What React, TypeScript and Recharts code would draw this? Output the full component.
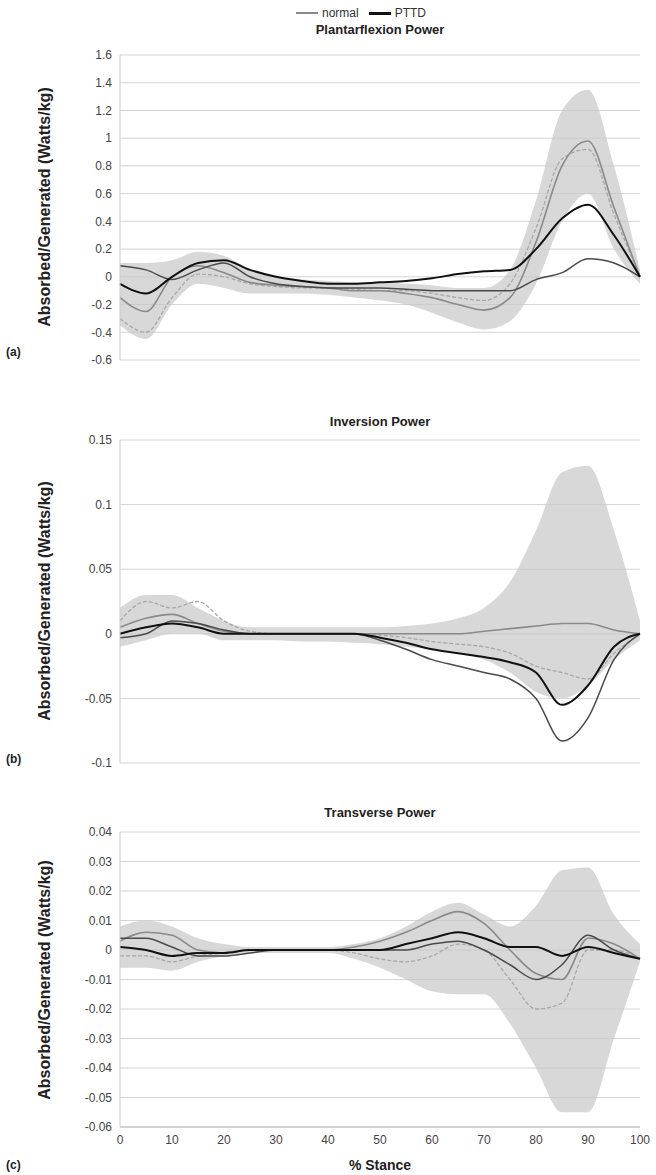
import React from 'react';
import { ComposedChart, Area, Line, XAxis, YAxis, CartesianGrid } from 'recharts';

// % stance sample points
const stance = [0, 5, 10, 15, 20, 25, 30, 35, 40, 45, 50, 55, 60, 65, 70, 75, 80, 85, 90, 95, 100];
const xTicks = [0, 10, 20, 30, 40, 50, 60, 70, 80, 90, 100];

// (a) Plantarflexion power
const aBandHi = [0.1, 0.1, 0.12, 0.18, 0.15, 0.05, 0.0, -0.02, -0.03, -0.04, -0.04, -0.05, -0.06, -0.08, -0.08, 0.05, 0.55, 1.2, 1.35, 0.8, 0.05];
const aBandLo = [-0.35, -0.45, -0.2, -0.05, -0.08, -0.12, -0.12, -0.12, -0.13, -0.15, -0.17, -0.2, -0.26, -0.33, -0.38, -0.32, -0.05, 0.4, 0.6, 0.2, -0.05];
const aNormal = [-0.15, -0.25, 0.0, 0.08, 0.03, -0.04, -0.06, -0.07, -0.08, -0.1, -0.1, -0.12, -0.15, -0.2, -0.24, -0.15, 0.25, 0.8, 0.98, 0.5, 0.0];
const aNormalAlt = [-0.3, -0.4, -0.15, 0.02, 0.0, -0.05, -0.07, -0.08, -0.08, -0.09, -0.1, -0.1, -0.12, -0.15, -0.17, -0.05, 0.35, 0.85, 0.92, 0.45, 0.0];
const aPttd = [-0.05, -0.12, 0.0, 0.1, 0.12, 0.05, 0.0, -0.03, -0.05, -0.05, -0.04, -0.03, -0.01, 0.02, 0.04, 0.05, 0.2, 0.42, 0.52, 0.3, 0.0];
const aPttdAlt = [0.08, 0.05, -0.02, 0.05, 0.1, 0.0, -0.05, -0.07, -0.08, -0.08, -0.08, -0.09, -0.1, -0.1, -0.1, -0.1, -0.02, 0.03, 0.13, 0.1, 0.0];
const aTicks = [1.6, 1.4, 1.2, 1, 0.8, 0.6, 0.4, 0.2, 0, -0.2, -0.4, -0.6];

// (b) Inversion power
const bBandHi = [0.02, 0.03, 0.03, 0.02, 0.01, 0.005, 0.005, 0.005, 0.005, 0.005, 0.005, 0.006, 0.008, 0.012, 0.02, 0.04, 0.08, 0.125, 0.13, 0.08, 0.01];
const bBandLo = [-0.01, -0.005, 0.0, 0.0, -0.005, -0.005, -0.005, -0.006, -0.006, -0.007, -0.008, -0.01, -0.012, -0.015, -0.02, -0.03, -0.045, -0.05, -0.04, -0.02, -0.005];
const bNormal = [0.005, 0.012, 0.015, 0.008, 0.002, 0.0, 0.0, 0.0, 0.0, 0.0, 0.0, 0.0, 0.0, 0.0, 0.002, 0.004, 0.006, 0.008, 0.008, 0.003, 0.0];
const bNormalAlt = [0.01, 0.025, 0.02, 0.025, 0.01, 0.002, 0.0, 0.0, 0.0, 0.0, -0.001, -0.003, -0.006, -0.008, -0.01, -0.015, -0.025, -0.03, -0.035, -0.015, 0.0];
const bPttd = [0.0, 0.005, 0.008, 0.005, 0.0, 0.0, 0.0, 0.0, 0.0, 0.0, -0.003, -0.007, -0.012, -0.015, -0.018, -0.022, -0.03, -0.055, -0.04, -0.01, 0.0];
const bPttdAlt = [-0.003, 0.0, 0.01, 0.008, 0.003, 0.0, 0.0, 0.0, 0.0, 0.0, -0.005, -0.012, -0.02, -0.025, -0.03, -0.035, -0.05, -0.083, -0.065, -0.02, 0.0];
const bTicks = [0.15, 0.1, 0.05, 0, -0.05, -0.1];

// (c) Transverse power
const cBandHi = [0.008, 0.01, 0.008, 0.004, 0.002, 0.001, 0.001, 0.001, 0.001, 0.002, 0.004, 0.008, 0.013, 0.016, 0.012, 0.008, 0.015, 0.027, 0.028, 0.012, 0.002];
const cBandLo = [-0.006, -0.006, -0.007, -0.004, -0.002, -0.001, -0.001, -0.001, -0.001, -0.003, -0.006, -0.01, -0.014, -0.015, -0.015, -0.025, -0.04, -0.055, -0.055, -0.03, -0.004];
const cNormal = [0.003, 0.006, 0.005, 0.0, -0.001, 0.0, 0.0, 0.0, 0.0, 0.001, 0.003, 0.006, 0.01, 0.013, 0.009, 0.0, -0.008, -0.01, 0.004, 0.002, -0.003];
const cNormalAlt = [-0.002, -0.002, -0.004, -0.002, -0.001, 0.0, 0.0, 0.0, 0.0, -0.001, -0.003, -0.004, -0.002, 0.002, 0.0, -0.01, -0.02, -0.018, 0.0, 0.0, -0.003];
const cPttd = [0.001, 0.0, -0.002, -0.001, -0.001, 0.0, 0.0, 0.0, 0.0, 0.0, 0.0, 0.002, 0.004, 0.006, 0.004, 0.001, 0.001, -0.002, 0.001, -0.001, -0.003];
const cPttdAlt = [0.004, 0.004, 0.001, -0.002, -0.002, -0.001, 0.0, 0.0, 0.0, 0.0, 0.0, 0.0, 0.002, 0.003, 0.0, -0.005, -0.01, -0.005, 0.005, 0.0, -0.003];
const cTicks = [0.04, 0.03, 0.02, 0.01, 0, -0.01, -0.02, -0.03, -0.04, -0.05, -0.06];

const build = (hi: number[], lo: number[], n: number[], na: number[], p: number[], pa: number[]) =>
  stance.map((x, i) => ({ x, band: [lo[i], hi[i]], normal: n[i], normalAlt: na[i], pttd: p[i], pttdAlt: pa[i] }));

const font = 'Liberation Sans, Arial, sans-serif';

const Panel = ({ data, ticks, top, height, mTop, mBottom, showX }: any) => (
  <div style={{ position: 'absolute', left: 0, top }}>
    <ComposedChart width={656} height={height} data={data} margin={{ top: mTop, right: 16, bottom: mBottom, left: 0 }}>
      <CartesianGrid vertical={false} stroke="#d4d4d4" />
      <XAxis
        dataKey="x"
        type="number"
        domain={[0, 100]}
        ticks={xTicks}
        hide={!showX}
        tickLine={false}
        axisLine={{ stroke: '#bbb' }}
        tick={{ fontSize: 12, fill: '#444', fontFamily: font }}
        interval={0}
      />
      <YAxis
        type="number"
        width={120}
        domain={[ticks[ticks.length - 1], ticks[0]]}
        ticks={ticks}
        interval={0}
        tickLine={false}
        axisLine={{ stroke: '#ccc' }}
        tick={{ fontSize: 12, fill: '#444', fontFamily: font }}
        allowDataOverflow
      />
      <Area type="monotone" dataKey="band" stroke="none" fill="#c8c8c8" fillOpacity={0.7} isAnimationActive={false} />
      <Line type="monotone" dataKey="normalAlt" stroke="#a8a8a8" strokeWidth={1.3} strokeDasharray="4 2" dot={false} isAnimationActive={false} />
      <Line type="monotone" dataKey="normal" stroke="#8a8a8a" strokeWidth={1.6} dot={false} isAnimationActive={false} />
      <Line type="monotone" dataKey="pttdAlt" stroke="#4a4a4a" strokeWidth={1.5} dot={false} isAnimationActive={false} />
      <Line type="monotone" dataKey="pttd" stroke="#111" strokeWidth={2} dot={false} isAnimationActive={false} />
    </ComposedChart>
  </div>
);

const txt = (s: string, style: React.CSSProperties) => (
  <div style={{ position: 'absolute', fontFamily: font, whiteSpace: 'nowrap', ...style }}>{s}</div>
);

const yTitle = (cy: number) => (
  <div
    style={{
      position: 'absolute', left: 45, top: cy, fontFamily: font, fontWeight: 'bold', fontSize: 16,
      color: '#222', whiteSpace: 'nowrap', transform: 'translate(-50%, -50%) rotate(-90deg)',
    }}
  >
    Absorbed/Generated (Watts/kg)
  </div>
);

export default function App() {
  const dataA = build(aBandHi, aBandLo, aNormal, aNormalAlt, aPttd, aPttdAlt);
  const dataB = build(bBandHi, bBandLo, bNormal, bNormalAlt, bPttd, bPttdAlt);
  const dataC = build(cBandHi, cBandLo, cNormal, cNormalAlt, cPttd, cPttdAlt);
  return (
    <div style={{ position: 'absolute', left: 0, top: 0, width: 656, height: 1175, background: '#fff' }}>
      <Panel data={dataA} ticks={aTicks} top={0} height={380} mTop={55} mBottom={20} showX={false} />
      <Panel data={dataB} ticks={bTicks} top={380} height={400} mTop={60} mBottom={17} showX={false} />
      <Panel data={dataC} ticks={cTicks} top={780} height={395} mTop={52} mBottom={18} showX={true} />

      <div style={{ position: 'absolute', left: 296, top: 6, fontFamily: font, fontSize: 12, color: '#333', display: 'flex', alignItems: 'center', gap: 4 }}>
        <span style={{ display: 'inline-block', width: 22, height: 2, background: '#8a8a8a' }} />
        <span>normal</span>
        <span style={{ display: 'inline-block', width: 22, height: 3, background: '#111', marginLeft: 6 }} />
        <span>PTTD</span>
      </div>
      {txt('Plantarflexion Power', { left: 380, top: 22, transform: 'translateX(-50%)', fontWeight: 'bold', fontSize: 13, color: '#222' })}
      {txt('Inversion Power', { left: 380, top: 414, transform: 'translateX(-50%)', fontWeight: 'bold', fontSize: 13, color: '#222' })}
      {txt('Transverse Power', { left: 380, top: 805, transform: 'translateX(-50%)', fontWeight: 'bold', fontSize: 13, color: '#222' })}
      {txt('% Stance', { left: 380, top: 1157, transform: 'translateX(-50%)', fontWeight: 'bold', fontSize: 14, color: '#222' })}

      {yTitle(207)}
      {yTitle(601)}
      {yTitle(980)}

      {txt('(a)', { left: 6, top: 345, fontWeight: 'bold', fontSize: 12, color: '#222' })}
      {txt('(b)', { left: 6, top: 752, fontWeight: 'bold', fontSize: 12, color: '#222' })}
      {txt('(c)', { left: 6, top: 1158, fontWeight: 'bold', fontSize: 12, color: '#222' })}
    </div>
  );
}
